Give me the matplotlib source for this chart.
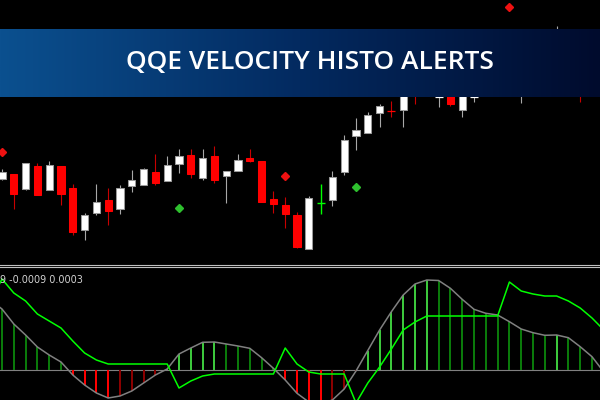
import matplotlib
matplotlib.use("Agg")
import matplotlib.pyplot as plt
import numpy as np
from matplotlib.lines import Line2D
from matplotlib.colors import LinearSegmentedColormap

# ---------------- data ----------------
bars = list(range(-1, 52))
opens = [84, 85, 90, 75, 98, 74, 98, 76, 34, 51, 64, 55, 78, 79, 92, 83, 100, 109, 86, 108,
         88, 93, 106, 103, 65, 59, 49, 15, 61, 64, 92, 128, 131, 151, 153.5, 154, 182, 172,
         166.7, 178, 154, 166.5, 172, 192, 212, 204, 212, 222, 224, 230, 204, 186, 174]
highs = [99, 95, 90, 101, 101, 103, 98, 80, 51, 80, 76, 79, 94, 96, 110, 108, 115, 115, 115, 118,
         93, 110, 115, 103, 73, 67, 52, 68, 80, 93, 129, 146, 152, 160, 163, 186, 192, 204,
         179, 184, 186, 180, 204, 219, 234, 224, 229, 233, 238, 234, 219, 204, 189]
lows = [79, 84, 55, 74, 69, 74, 59, 29, 24, 49, 39, 50, 72, 79, 79, 83, 91, 86, 84, 81,
        61, 93, 102, 62, 51, 36, 16, 15, 50, 58, 89, 114, 131, 137, 147, 137, 160, 168,
        157, 158, 147, 162, 169, 176, 184, 161.3, 194, 199, 204, 194, 162.3, 169, 169]
closes = [92, 92, 70, 101, 69, 99, 70, 32, 49, 62, 53, 76, 84, 95, 81, 99, 108, 90, 106, 84,
          93, 104, 103, 62, 60, 50, 17, 66, 61, 87, 124, 134, 149, 158, 153, 180, 170, 198,
          167.3, 160, 176, 167, 194, 214, 204, 214, 224, 228, 232, 204, 184, 174, 184]

histo = [70, 61, 46, 35, 23, 15, 8, -5, -15, -23, -28, -26, -21, -13, -5, 1, 16, 22, 27.7, 28,
         26, 24, 21.7, 12.3, 1.7, -10, -23.3, -32, -34, -30, -19, -1, 19.5, 40, 58.3, 75, 86,
         90, 89.5, 81.7, 70.7, 60.7, 56.7, 55, 48.3, 41, 37.3, 34.7, 35, 32.3, 23.3, 13.3, -2]
trail = [68, 91, 77, 69, 56, 49, 42, 29, 17, 10, 6, 6, 6, 6, 6, 6, -18, -11, -6, -4,
         -4, -4, -4, -4, -4, 22, 6, -2, -4, -4, -4, -33, -13, 3, 21, 40, 48, 54,
         54, 54, 54, 54, 54, 54, 88, 79, 76, 74, 74, 69, 62, 52, 40]

sell_bars = [0, 24, 43]
sell_levels = [112, 87.7, 257.3]
buy_bars = [15, 30]
buy_levels = [56, 76.7]

title = "QQE VELOCITY HISTO ALERTS"
label_text = "9 -0.0009 0.0003"

# ---------------- figure ----------------
W, H = 600, 400
fig = plt.figure(figsize=(6, 4), dpi=100, facecolor="black")
X0, STEP = 2.0, 11.8
xlim = ((0 - X0) / STEP, (W - X0) / STEP)

# price panel (pixels 0..264 from top)
ax = fig.add_axes([0, (H - 264) / H, 1, 264 / H])
ax.set_facecolor("black")
ax.set_xlim(xlim)
ax.set_ylim(0, 264)
ax.axis("off")

for x, o, h, l, c in zip(bars, opens, highs, lows, closes):
    if o == c:
        col = "#00ff00"
        ax.vlines(x, l, h, color=col, lw=1.0, zorder=2)
        ax.hlines(c, x - 0.34, x + 0.34, color=col, lw=1.0, zorder=3)
        continue
    bull = c > o
    wick = "#a8a8a8" if bull else "#c80000"
    ax.vlines(x, l, h, color=wick, lw=0.8, zorder=2)
    if abs(c - o) < 1.2:
        ax.hlines(c, x - 0.34, x + 0.34, color="white" if bull else "#ff0000", lw=0.9, zorder=3)
    else:
        ax.bar(x, abs(c - o), bottom=min(o, c), width=0.6,
               color="white" if bull else "#ff0000",
               edgecolor="#9a9a9a" if bull else "#ff0000", lw=0.75, zorder=3)

ax.plot(sell_bars, sell_levels, "D", color="#ee1111", ms=4.2, mec="#ee1111", zorder=4)
ax.plot(buy_bars, buy_levels, "D", color="#2ec02e", ms=4.2, mec="#2ec02e", zorder=4)

# indicator panel (pixels 267..400)
ai = fig.add_axes([0, 0, 1, 133 / H])
ai.set_facecolor("black")
ai.set_xlim(xlim)
ai.set_ylim(-30, 103)
ai.axis("off")

cols = []
for k, v in enumerate(histo):
    prev = histo[k - 1] if k > 0 else v + 1
    if v >= 0:
        cols.append("#3cc83c" if v > prev else "#0a7a0a")
    else:
        cols.append("#ff0000" if v < prev else "#8b0000")
ai.bar(bars, histo, width=0.17, color=cols, zorder=2)
ai.axhline(0, color="#808080", lw=0.8, zorder=1)
ai.plot(bars, histo, color="#808080", lw=1.1, zorder=3)
ai.plot(bars, trail, color="#00ff00", lw=1.1, zorder=4)

fig.text(0.5 / W, 1 - 280 / H, label_text, ha="left", va="center",
         color="#d4d4d4", fontsize=6.9, family="DejaVu Sans")

# separator lines
for yy in (264.5, 266.8):
    fig.add_artist(Line2D([0, 1], [1 - yy / H, 1 - yy / H], color="#c0c0c0", lw=0.8,
                          transform=fig.transFigure))

# banner
ab = fig.add_axes([0, (H - 96.7) / H, 1, 67.7 / H])
ab.set_zorder(10)
ab.axis("off")
cmap = LinearSegmentedColormap.from_list(
    "banner", [(0, "#0b508f"), (0.5, "#032a60"), (1, "#000b2d")])
ab.imshow(np.linspace(0, 1, 256)[None, :], aspect="auto", cmap=cmap, extent=[0, 1, 0, 1])
ab.set_xlim(0, 1)
ab.set_ylim(0, 1)
ab.text(310 / W, 0.5, title, ha="center", va="center", color="white",
        fontsize=19, fontweight="semibold", family="Open Sans", transform=ab.transAxes)

fig.savefig("out.png", dpi=100, facecolor="black")
